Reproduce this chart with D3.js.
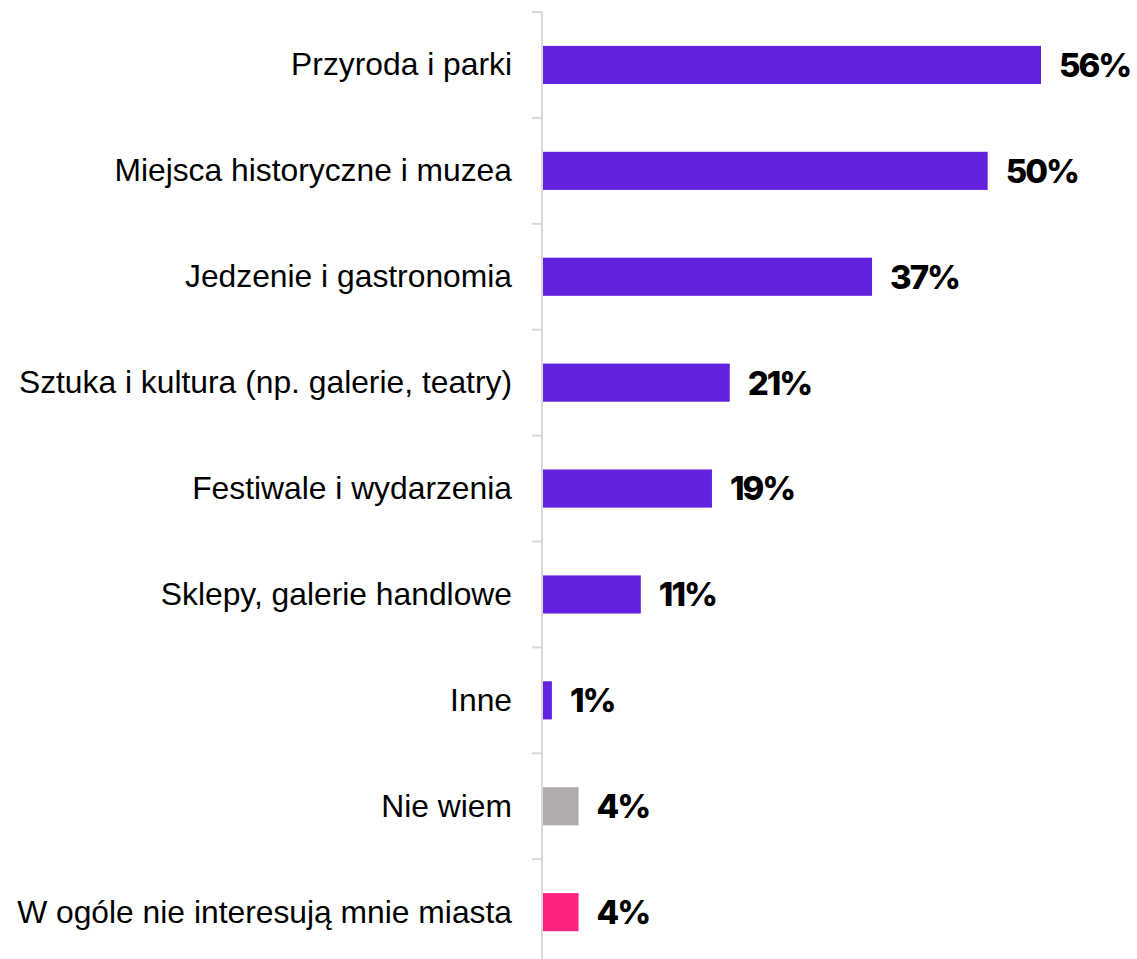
<!DOCTYPE html>
<html>
<head>
<meta charset="utf-8">
<script src="https://cdn.jsdelivr.net/npm/d3@7"></script>
<style>
  html, body { margin: 0; padding: 0; background: #fff; }
  svg { display: block; }
</style>
</head>
<body>
<svg id="chart" width="1137" height="959"></svg>
<script>
// Categories (top to bottom), their shares in percent and bar colours
const categories = [
  "Przyroda i parki",
  "Miejsca historyczne i muzea",
  "Jedzenie i gastronomia",
  "Sztuka i kultura (np. galerie, teatry)",
  "Festiwale i wydarzenia",
  "Sklepy, galerie handlowe",
  "Inne",
  "Nie wiem",
  "W ogóle nie interesują mnie miasta"
];
const values = [56, 50, 37, 21, 19, 11, 1, 4, 4];
const colors = ["#6222DE", "#6222DE", "#6222DE", "#6222DE", "#6222DE", "#6222DE", "#6222DE", "#B0ACAC", "#FF2380"];

const svg = d3.select("#chart");
const axisX = 542;
const plotTop = 12;
const bandH = 105.9;

const y = d3.scaleBand()
  .domain(categories)
  .range([plotTop, plotTop + bandH * categories.length])
  .paddingInner(0.64)
  .paddingOuter(0.32);

const x = d3.scaleLinear()
  .domain([0, 56])
  .range([axisX + 1, 1041]);

// Category axis: light grey line with ticks at the band boundaries
svg.append("line")
  .attr("x1", axisX).attr("x2", axisX)
  .attr("y1", plotTop).attr("y2", 959)
  .attr("stroke", "#d9d9d9").attr("stroke-width", 2);

const boundaries = d3.range(categories.length).map(i => plotTop + i * bandH);
svg.selectAll("line.tick")
  .data(boundaries)
  .join("line")
  .attr("class", "tick")
  .attr("x1", axisX - 10).attr("x2", axisX)
  .attr("y1", d => d).attr("y2", d => d)
  .attr("stroke", "#d9d9d9").attr("stroke-width", 2);

// Category labels
svg.selectAll("text.cat")
  .data(categories)
  .join("text")
  .attr("class", "cat")
  .attr("x", 512)
  .attr("y", d => y(d) + y.bandwidth() / 2)
  .attr("dy", "0.33em")
  .attr("text-anchor", "end")
  .attr("font-family", "Liberation Sans, Arial, sans-serif")
  .attr("font-size", 31.8)
  .attr("fill", "#000")
  .text(d => d);

// Bars
svg.selectAll("rect.bar")
  .data(values)
  .join("rect")
  .attr("class", "bar")
  .attr("x", x(0))
  .attr("y", (d, i) => y(categories[i]))
  .attr("width", d => x(d) - x(0))
  .attr("height", y.bandwidth())
  .attr("fill", (d, i) => colors[i]);

// Value labels
svg.selectAll("text.val")
  .data(values)
  .join("text")
  .attr("class", "val")
  .attr("x", d => x(d) + 18)
  .attr("y", (d, i) => y(categories[i]) + y.bandwidth() / 2)
  .attr("dy", "0.36em")
  .attr("font-family", "Inter, sans-serif")
  .attr("font-weight", 800)
  .attr("font-size", 33)
  .attr("letter-spacing", -2)
  .attr("fill", "#000")
  .text(d => d + "%");
</script>
</body>
</html>
